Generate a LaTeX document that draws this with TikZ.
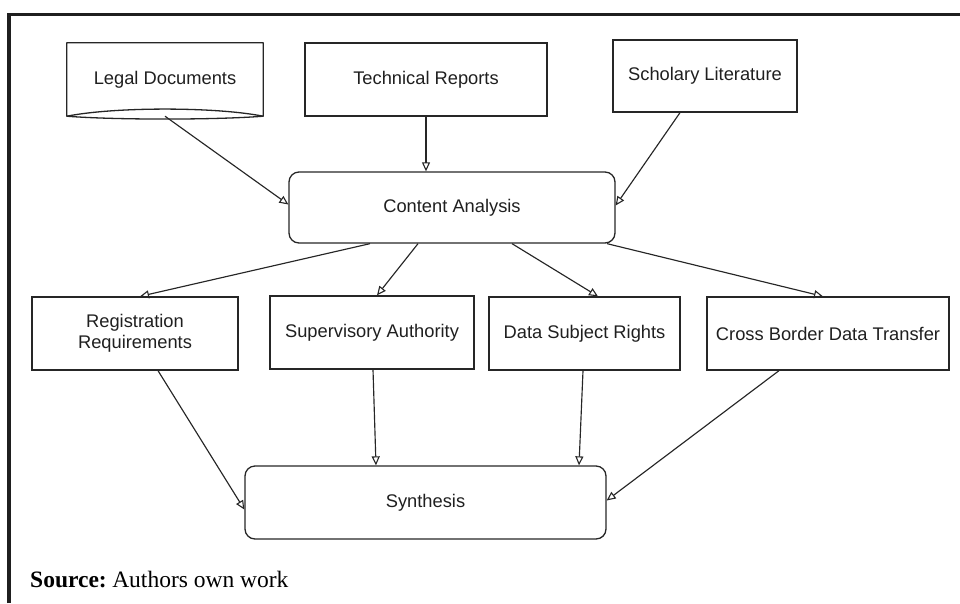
\documentclass[tikz,border=0pt]{standalone}
\usepackage{fontspec}
\setsansfont{Liberation Sans}
\setmainfont{Liberation Serif}
\usetikzlibrary{arrows.meta}
\tikzset{
  lbl/.style={font=\sffamily\fontsize{18.3}{21.5}\selectfont, align=center, inner sep=0pt, text=black!88},
  box/.style={lbl, draw=black!85, line width=1.3pt},
  rbox/.style={box, rounded corners=10pt},
  conn/.style={draw=black!85, line width=1.15pt, -{Triangle[open, length=9pt, width=8pt, line width=1.1pt]}},
  frameline/.style={draw=black!88, line width=3.4pt}
}
\begin{document}
\begin{tikzpicture}[x=1pt, y=-1pt]
\useasboundingbox (0,0) rectangle (960,603);
% frame
\draw[frameline] (9,603) -- (9,14.3) -- (960,14.3);
% top row
\node[lbl, minimum width=196pt, minimum height=73pt] (legal) at (165,79.5) {Legal Documents};
\draw[draw=black!85, line width=1.3pt, line join=round] (legal.north west) -- (legal.north east) -- (legal.south east)
   .. controls (215,106.7) and (115,106.7) .. (legal.south west) -- cycle;
\draw[draw=black!85, line width=1.3pt] (legal.south west) .. controls (115,120) and (215,120) .. (legal.south east);
\node[box, minimum width=242pt, minimum height=73pt] (tech) at (426,79.5) {Technical Reports};
\node[box, minimum width=184pt, minimum height=72pt] (schol) at (705,76) {Scholary Literature};
% content analysis
\node[rbox, minimum width=326pt, minimum height=71pt] (cont) at (452,207.5) {Content Analysis};
% middle row
\node[box, minimum width=206pt, minimum height=73pt] (reg) at (135,333.5) {Registration\\Requirements};
\node[box, minimum width=204pt, minimum height=73pt] (sup) at (372,332.5) {Supervisory Authority};
\node[box, minimum width=191pt, minimum height=73pt] (dsr) at (584.5,333.5) {Data Subject Rights};
\node[box, minimum width=242pt, minimum height=73pt] (cbt) at (828,333.5) {Cross Border Data Transfer};
% synthesis
\node[rbox, minimum width=361pt, minimum height=73pt] (syn) at (425.5,502.5) {Synthesis};
% source
\node[anchor=base west, inner sep=0pt, font=\rmfamily\fontsize{23.5}{27}\selectfont] (src) at (30,587) {\textbf{Source:}\hspace{-0.1em} Authors own work};
% connectors
\draw[conn] (legal.south) -- ([yshift=3pt]cont.west);
\draw[conn] (tech.south) -- (tech.south |- cont.north);
\draw[conn] ([xshift=-25pt]schol.south) -- ([yshift=2pt]cont.east);
\draw[conn] ([xshift=-82pt]cont.south) -- ([xshift=5pt]reg.north);
\draw[conn] ([xshift=-34pt]cont.south) -- ([xshift=5pt]sup.north);
\draw[conn] ([xshift=60pt]cont.south) -- ([xshift=13.5pt]dsr.north);
\draw[conn] ([xshift=155pt]cont.south) -- ([xshift=-5pt]cbt.north);
\draw[conn] ([xshift=23pt]reg.south) -- ([yshift=-7pt]syn.west);
\draw[conn] ([xshift=1pt]sup.south) -- ([xshift=-49.5pt]syn.north);
\draw[conn] ([xshift=-1.5pt]dsr.south) -- ([xshift=153.5pt]syn.north);
\draw[conn] ([xshift=-49pt]cbt.south) -- ([yshift=2pt]syn.east);
\end{tikzpicture}
\end{document}
